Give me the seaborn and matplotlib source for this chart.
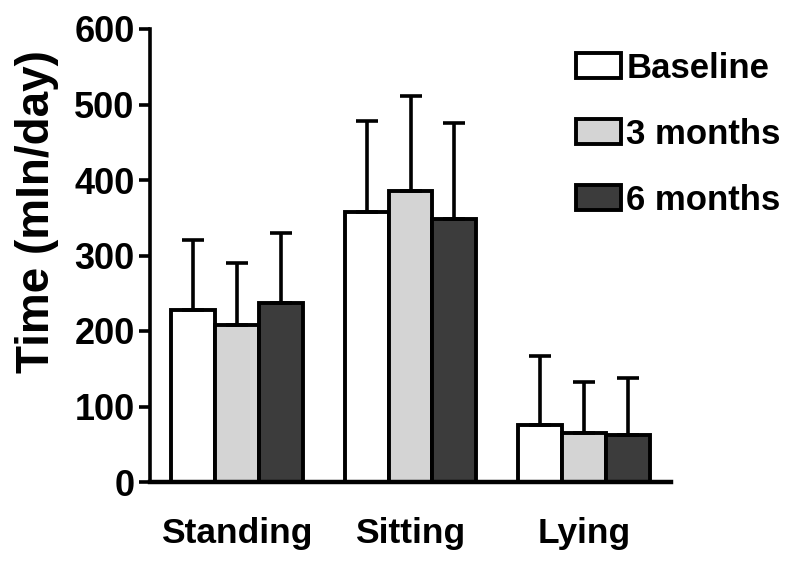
import numpy as np
import pandas as pd
import matplotlib
matplotlib.use("Agg")
import matplotlib.pyplot as plt
import seaborn as sns

postures = ["Standing", "Sitting", "Lying"]
time_points = ["Baseline", "3 months", "6 months"]
baseline = [228, 358, 75]
three_months = [208, 385, 65]
six_months = [237, 348, 62]
baseline_sd = [92, 120, 92]
three_months_sd = [82, 126, 68]
six_months_sd = [93, 127, 76]
yticks = [0, 100, 200, 300, 400, 500, 600]

means = [baseline, three_months, six_months]
sds = [baseline_sd, three_months_sd, six_months_sd]
rows = []
for tp, m, s in zip(time_points, means, sds):
    for p, v, e in zip(postures, m, s):
        rows.append({"posture": p, "time_point": tp, "time": v, "sd": e})
df = pd.DataFrame(rows)

sns.set_theme(style="white")
plt.rcParams["font.family"] = ["Liberation Sans", "DejaVu Sans"]
plt.rcParams["font.weight"] = "bold"
plt.rcParams["text.color"] = "black"
plt.rcParams["axes.labelcolor"] = "black"
plt.rcParams["xtick.color"] = "black"
plt.rcParams["ytick.color"] = "black"

fig = plt.figure(figsize=(7.95, 5.64), dpi=100)
ax = fig.add_axes([150/795, 1-482/564, 521/795, 453/564])

palette = {"Baseline": "#ffffff", "3 months": "#d4d4d4", "6 months": "#3c3c3c"}
sns.barplot(data=df, x="posture", y="time", hue="time_point", order=postures,
            hue_order=time_points, palette=palette, errorbar=None,
            edgecolor="black", linewidth=2.8, width=0.76, ax=ax, saturation=1)

for cont, tp in zip(ax.containers, time_points):
    sub = df[df.time_point == tp].set_index("posture").loc[postures]
    xs = [b.get_x() + b.get_width()/2 for b in cont]
    hs = [b.get_height() for b in cont]
    err = sub["sd"].values
    ax.errorbar(xs, hs, yerr=[np.zeros(len(err)), err], fmt="none",
                ecolor="black", elinewidth=2.6, capsize=8, capthick=2.6, zorder=1)

ax.set_xlim(-0.5, 2.5)
ax.set_ylim(0, 600)
ax.set_yticks(yticks)
ax.set_yticklabels([str(t) for t in yticks], fontsize=26, fontweight="bold", color="black")
ax.set_xticks(range(len(postures)))
ax.set_xticklabels(postures, fontsize=25.5, fontweight="bold", color="black")
ax.tick_params(axis="y", length=8, width=2.6, pad=3, left=True, direction="out", colors="black")
ax.tick_params(axis="x", length=0, pad=25)
ax.set_xlabel("")
ax.set_ylabel("Time (mIn/day)", fontsize=33, fontweight="bold", color="black")
ax.yaxis.set_label_coords(-0.175, 0.596)

for s in ["top", "right"]:
    ax.spines[s].set_visible(False)
ax.spines["left"].set_linewidth(2.6)
ax.spines["bottom"].set_linewidth(3.2)
ax.spines["left"].set_color("black")
ax.spines["bottom"].set_color("black")

handles, labels = ax.get_legend_handles_labels()
ax.legend(handles, labels, loc="upper left", bbox_to_anchor=(576/795, 1-52/564),
          bbox_transform=fig.transFigure, frameon=False,
          prop={"size": 25, "weight": "bold"}, labelcolor="black",
          handlelength=1.3, handleheight=0.72, handletextpad=0.15, labelspacing=0.95,
          borderpad=0, borderaxespad=0)

fig.savefig("out.png", dpi=100, facecolor="white")
